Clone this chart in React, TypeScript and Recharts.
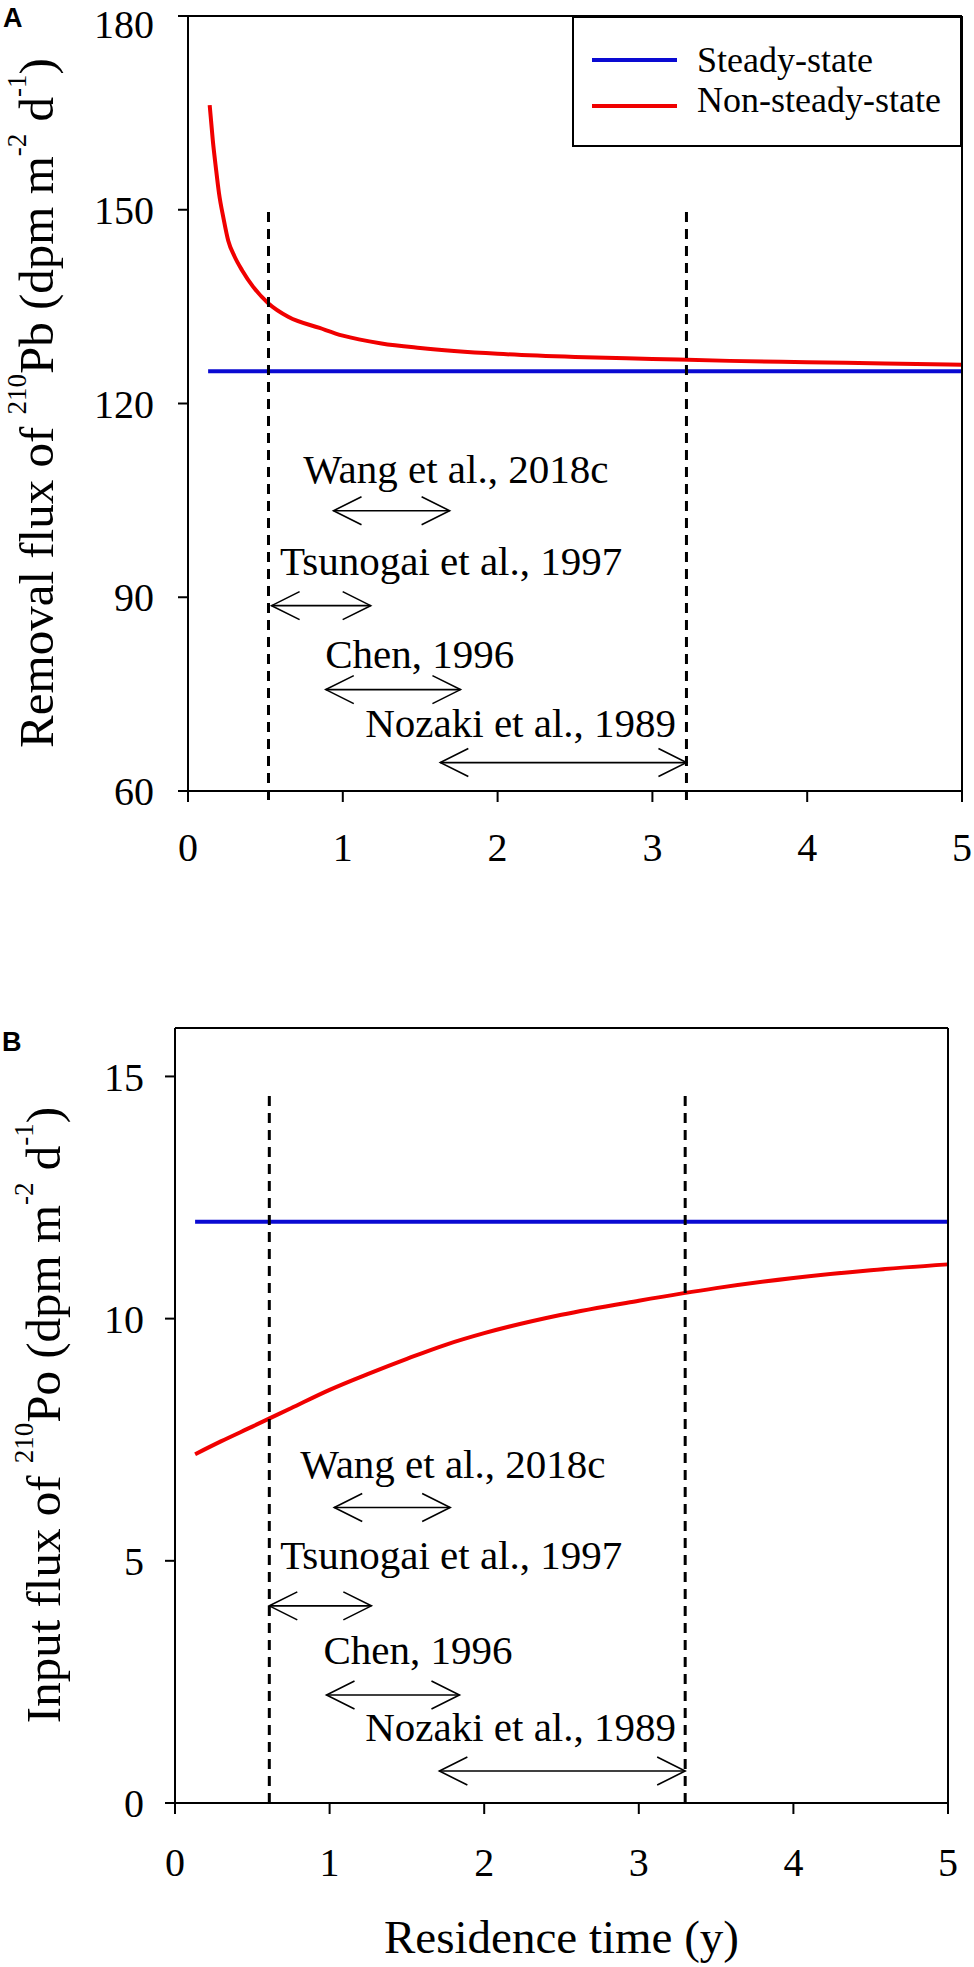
import React from 'react';
import {
    LineChart, Line, XAxis, YAxis, ReferenceLine, ReferenceDot, Legend
} from 'recharts';

const SERIF = '"Liberation Serif", "Times New Roman", serif';
const SANS = '"Liberation Sans", Arial, sans-serif';

// shared x axis (residence time, y)
const xTicks = [0, 1, 2, 3, 4, 5];
const seriesNames = ['Steady-state', 'Non-steady-state'];

// panel A: removal flux of 210Pb
const yTicksA = [60, 90, 120, 150, 180];
const timeA = [0.14, 0.16, 0.18, 0.2, 0.23, 0.26, 0.3, 0.35, 0.42, 0.52, 0.65, 0.85, 1.0, 1.25, 1.5, 2.0, 2.5, 3.0, 3.5, 4.0, 4.5, 5.0];
const nonSteadyA = [166.2, 160.8, 156.5, 152.6, 148.6, 145.2, 142.8, 140.6, 138.1, 135.5, 133.4, 131.7, 130.5, 129.3, 128.6, 127.7, 127.2, 126.9, 126.6, 126.4, 126.2, 126.0];
const steadyTimeA = [0.13, 5];
const steadyA = [125, 125];

// panel B: input flux of 210Po
const yTicksB = [0, 5, 10, 15];
const timeB = [0.13, 0.3, 0.5, 0.75, 1.0, 1.25, 1.5, 1.75, 2.0, 2.5, 3.0, 3.5, 4.0, 4.5, 5.0];
const nonSteadyB = [7.2, 7.47, 7.77, 8.15, 8.53, 8.86, 9.17, 9.46, 9.7, 10.08, 10.37, 10.63, 10.84, 11.0, 11.12];
const steadyTimeB = [0.13, 5];
const steadyB = [12, 12];

// literature residence-time ranges
const studies = ['Wang et al., 2018c', 'Tsunogai et al., 1997', 'Chen, 1996', 'Nozaki et al., 1989'];
const rangesA = [[0.94, 1.69], [0.54, 1.18], [0.89, 1.76], [1.63, 3.22]];
const arrowYA = [103.4, 88.7, 75.7, 64.4];
const textXA = [0.744, 0.595, 0.886, 1.145];
const textYA = [107.7, 93.5, 79.1, 68.4];
const boundsA = [0.52, 3.22];

const rangesB = [[1.03, 1.78], [0.61, 1.27], [0.98, 1.84], [1.71, 3.3]];
const arrowYB = [6.1, 4.07, 2.23, 0.66];
const textXB = [0.81, 0.68, 0.96, 1.23];
const textYB = [6.72, 4.83, 2.86, 1.27];
const boundsB = [0.61, 3.3];

const toPoints = (xs: number[], ys: number[]) => xs.map((x, i) => ({ x, y: ys[i] }));

const arrowShape = (p: any) => {
    const { x1, y1, x2, y2 } = p;
    const L = 28, H = 14;
    return (
        <g stroke="#000" strokeWidth={1.6} fill="none">
            <line x1={x1} y1={y1} x2={x2} y2={y2} />
            <polyline points={`${x1 + L},${y1 - H} ${x1},${y1} ${x1 + L},${y1 + H}`} />
            <polyline points={`${x2 - L},${y2 - H} ${x2},${y2} ${x2 - L},${y2 + H}`} />
        </g>
    );
};

const renderLegend = (props: any) => {
    const items = [...(props.payload || [])].sort(
        (a: any, b: any) => seriesNames.indexOf(a.value) - seriesNames.indexOf(b.value)
    );
    return (
        <div style={{ width: 390, height: 131, border: '2px solid #000', boxSizing: 'border-box', background: '#fff' }}>
            <svg width={386} height={127}>
                {items.map((it: any, i: number) => (
                    <g key={it.value}>
                        <line x1={18} x2={103} y1={42 + i * 46} y2={42 + i * 46} stroke={it.color} strokeWidth={4} />
                        <text x={123} y={54 + i * 40} fontFamily={SERIF} fontSize={36} fill="#000">{it.value}</text>
                    </g>
                ))}
            </svg>
        </div>
    );
};

function Panel(props: any) {
    const {
        top, height, margin, yWidth, yDomain, yTicks, xMargin, yMargin,
        nonSteady, steady, ranges, arrowY, textX, textY, bounds, dashBottom, dashTop, legend,
    } = props;
    const axisStyle = { stroke: '#000', strokeWidth: 2 };
    return (
        <div style={{ position: 'absolute', left: 0, top }}>
            <LineChart width={974} height={height} margin={margin}>
                <XAxis
                    type="number" dataKey="x" domain={[0, 5]} ticks={xTicks} height={height - margin.top - 775}
                    tickSize={11} tickMargin={xMargin} axisLine={axisStyle} tickLine={axisStyle}
                    tick={{ fill: '#000', fontSize: 40, fontFamily: SERIF }}
                />
                <YAxis
                    type="number" domain={yDomain} ticks={yTicks} width={yWidth}
                    tickSize={10} tickMargin={yMargin} axisLine={axisStyle} tickLine={axisStyle}
                    tick={{ fill: '#000', fontSize: 40, fontFamily: SERIF }}
                />
                <Line name={seriesNames[0]} data={steady} dataKey="y" type="monotone" stroke="#0a0ad2"
                    strokeWidth={4} dot={false} isAnimationActive={false} />
                <Line name={seriesNames[1]} data={nonSteady} dataKey="y" type="monotone" stroke="#f00000"
                    strokeWidth={4} dot={false} isAnimationActive={false} />
                {bounds.map((b: number) => (
                    <ReferenceLine key={`d${b}`} segment={[{ x: b, y: dashBottom }, { x: b, y: dashTop }]}
                        stroke="#000" strokeWidth={3} strokeDasharray="10 7" ifOverflow="visible" />
                ))}
                {studies.map((s, i) => (
                    <ReferenceLine key={`a${s}`}
                        segment={[{ x: ranges[i][0], y: arrowY[i] }, { x: ranges[i][1], y: arrowY[i] }]}
                        ifOverflow="visible" shape={arrowShape} />
                ))}
                {studies.map((s, i) => (
                    <ReferenceDot key={`t${s}`} x={textX[i]} y={textY[i]} r={0} ifOverflow="visible"
                        shape={(p: any) => (
                            <text x={p.cx} y={p.cy} fontFamily={SERIF} fontSize={41} fill="#000">{s}</text>
                        )} />
                ))}
                <ReferenceLine y={yDomain[1]} stroke="#000" strokeWidth={2} ifOverflow="visible" />
                <ReferenceLine x={5} stroke="#000" strokeWidth={2} ifOverflow="visible" />
                {legend && (
                    <Legend verticalAlign="middle" align="center" content={renderLegend}
                        wrapperStyle={{ position: 'absolute', left: 572, top: 16, width: 390, height: 131 }} />
                )}
            </LineChart>
        </div>
    );
}

export default function App() {
    const sup = 27;
    return (
        <div style={{ position: 'absolute', left: 0, top: 0, width: 974, height: 1967, background: '#fff', fontFamily: SERIF }}>
            <Panel
                top={0} height={900} margin={{ top: 16, right: 12, left: 0, bottom: 0 }} yWidth={188}
                yDomain={[60, 180]} yTicks={yTicksA} xMargin={31} yMargin={24}
                nonSteady={toPoints(timeA, nonSteadyA)} steady={toPoints(steadyTimeA, steadyA)}
                ranges={rangesA} arrowY={arrowYA} textX={textXA} textY={textYA}
                bounds={boundsA} dashBottom={58.6} dashTop={150} legend
            />
            <Panel
                top={1000} height={967} margin={{ top: 28, right: 26, left: 0, bottom: 0 }} yWidth={175}
                yDomain={[0, 16]} yTicks={yTicksB} xMargin={34} yMargin={21}
                nonSteady={toPoints(timeB, nonSteadyB)} steady={toPoints(steadyTimeB, steadyB)}
                ranges={rangesB} arrowY={arrowYB} textX={textXB} textY={textYB}
                bounds={boundsB} dashBottom={0} dashTop={14.7} legend={false}
            />
            <svg width={974} height={1967} style={{ position: 'absolute', left: 0, top: 0, pointerEvents: 'none' }}>
                <text x={3} y={27} fontFamily={SANS} fontWeight="bold" fontSize={27}>A</text>
                <text x={2} y={1051} fontFamily={SANS} fontWeight="bold" fontSize={27}>B</text>
                <text x={53} y={403} transform="rotate(-90 53 403)" textAnchor="middle" fontFamily={SERIF} fontSize={49}>
                    {'Removal flux of '}
                    <tspan fontSize={sup} dy={-27}>210</tspan>
                    <tspan dy={27}>{'Pb (dpm m'}</tspan>
                    <tspan fontSize={sup} dy={-27}>-2</tspan>
                    <tspan dy={27}>{' d'}</tspan>
                    <tspan fontSize={sup} dy={-27}>-1</tspan>
                    <tspan dy={27}>)</tspan>
                </text>
                <text x={60} y={1415} transform="rotate(-90 60 1415)" textAnchor="middle" fontFamily={SERIF} fontSize={49}>
                    {'Input flux of '}
                    <tspan fontSize={sup} dy={-27}>210</tspan>
                    <tspan dy={27}>{'Po (dpm m'}</tspan>
                    <tspan fontSize={sup} dy={-27}>-2</tspan>
                    <tspan dy={27}>{' d'}</tspan>
                    <tspan fontSize={sup} dy={-27}>-1</tspan>
                    <tspan dy={27}>)</tspan>
                </text>
                <text x={561.5} y={1953} textAnchor="middle" fontFamily={SERIF} fontSize={47}>Residence time (y)</text>
            </svg>
        </div>
    );
}
